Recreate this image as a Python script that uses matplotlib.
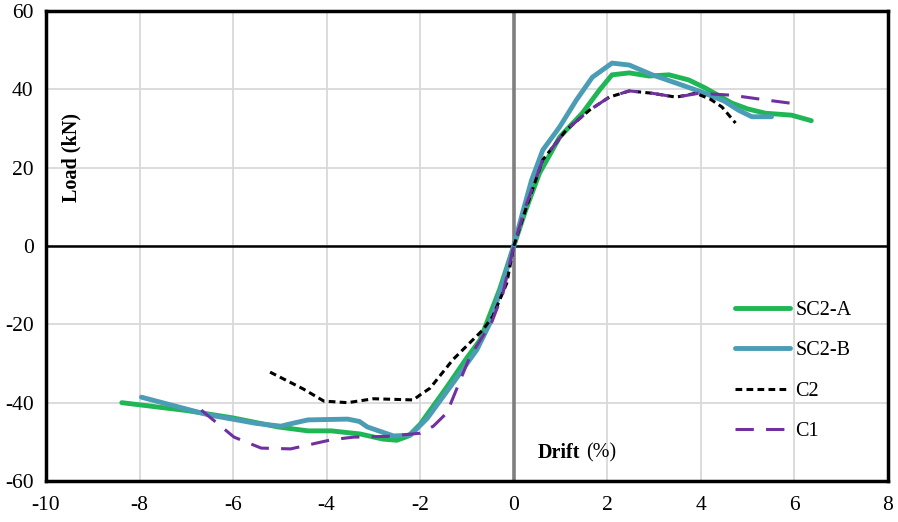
import matplotlib
matplotlib.use("Agg")
import matplotlib.pyplot as plt

# Data (drift %, load kN)
sc2a_x = [-8.38, -7.0, -6.0, -5.04, -4.4, -3.9, -3.28, -2.8, -2.5, -2.25, -2.0, -1.43, -1.0, -0.72, -0.3, 0.0, 0.25, 0.55, 0.98, 1.47, 1.83, 2.1, 2.47, 2.89, 3.32, 3.74, 4.1, 4.66, 5.0, 5.38, 5.94, 6.36]
sc2a_y = [-40.0, -42.0, -43.9, -46.2, -47.2, -47.2, -48.0, -49.3, -49.6, -48.5, -45.5, -36.0, -28.5, -24.0, -11.0, 0.0, 9.0, 18.6, 27.8, 34.0, 39.8, 43.7, 44.2, 43.4, 43.7, 42.4, 40.3, 36.5, 35.0, 33.9, 33.4, 32.0]

sc2b_x = [-7.96, -6.53, -5.5, -4.98, -4.7, -4.4, -3.55, -3.3, -3.13, -2.57, -2.21, -1.85, -1.3, -0.79, -0.51, -0.25, 0.0, 0.2, 0.38, 0.62, 0.98, 1.34, 1.68, 2.1, 2.47, 2.96, 3.47, 4.02, 4.5, 4.8, 5.09, 5.51]
sc2b_y = [-38.6, -43.1, -45.3, -46.0, -45.2, -44.4, -44.2, -44.8, -46.2, -48.5, -48.3, -44.0, -35.0, -26.5, -19.7, -10.0, 0.0, 9.0, 16.8, 24.5, 30.4, 37.3, 43.1, 46.7, 46.2, 43.7, 41.6, 39.3, 37.0, 34.7, 33.0, 33.0]

c2_x = [-5.21, -4.5, -4.06, -3.55, -3.0, -2.15, -2.0, -1.79, -1.3, -0.66, -0.45, -0.15, 0.0, 0.3, 0.62, 1.12, 1.62, 2.04, 2.47, 2.96, 3.47, 3.89, 4.2, 4.45, 4.74]
c2_y = [-32.2, -36.5, -39.6, -40.0, -39.0, -39.3, -38.0, -36.3, -29.0, -21.4, -18.0, -9.5, 0.0, 11.0, 22.0, 29.6, 34.7, 38.0, 39.6, 39.0, 38.0, 39.0, 37.5, 35.5, 31.4]

c1_x = [-6.68, -5.98, -5.4, -4.77, -3.91, -3.43, -2.7, -2.0, -1.72, -1.43, -0.94, -0.47, -0.23, 0.0, 0.25, 0.62, 1.12, 1.62, 2.04, 2.47, 2.96, 3.47, 3.96, 4.66, 5.38, 6.02]
c1_y = [-41.9, -48.8, -51.6, -51.8, -49.5, -48.8, -48.6, -47.8, -46.0, -42.6, -28.3, -19.4, -12.0, 0.0, 10.0, 22.0, 29.6, 34.7, 38.0, 39.6, 39.0, 38.0, 39.0, 38.5, 37.3, 36.3]

labels = ["SC2-A", "SC2-B", "C2", "C1"]
x_ticks = [-10, -8, -6, -4, -2, 0, 2, 4, 6, 8]
y_ticks = [-60, -40, -20, 0, 20, 40, 60]

serif = ["Liberation Serif", "DejaVu Serif"]
plt.rcParams["font.family"] = serif

fig = plt.figure(figsize=(8.98, 5.22), dpi=100)
ax = fig.add_axes([46 / 898, 1 - 481 / 522, (888 - 46) / 898, (481 - 11) / 522])

ax.set_xlim(-10, 8)
ax.set_ylim(-60, 60)
ax.set_xticks(x_ticks)
ax.set_yticks(y_ticks)
ax.set_xticklabels([str(v) for v in x_ticks])
ax.set_yticklabels([str(v) for v in y_ticks])
ax.tick_params(length=0, labelsize=15.5, pad=9)
ax.tick_params(axis="x", pad=11)
ax.grid(True, color="#d9d9d9", linewidth=1.3)
ax.set_axisbelow(True)
for s in ax.spines.values():
    s.set_linewidth(2.5)
    s.set_color("black")

ax.axvline(0, color="#7f7f7f", linewidth=2.6, zorder=1.5)
ax.axhline(0, color="black", linewidth=1.8, zorder=1.5)

cap = "round"
ax.plot(sc2a_x, sc2a_y, color="#1fb655", linewidth=3.5, solid_capstyle=cap, solid_joinstyle="round", label=labels[0], zorder=3)
ax.plot(sc2b_x, sc2b_y, color="#4a9db4", linewidth=3.5, solid_capstyle=cap, solid_joinstyle="round", label=labels[1], zorder=4)
ax.plot(c2_x, c2_y, color="black", linewidth=2.2, linestyle=(0, (2.2, 1.4)), label=labels[2], zorder=5)
ax.plot(c1_x, c1_y, color="#7030a0", linewidth=2.2, linestyle=(0, (6, 4)), label=labels[3], zorder=6)

leg = ax.legend(loc="upper left", bbox_to_anchor=(735 / 898, 1 - 301 / 522),
                bbox_transform=fig.transFigure, frameon=False, fontsize=14.5,
                handlelength=2.75, handletextpad=0.25, labelspacing=1.05, borderpad=0,
                borderaxespad=0)

ax.text(-9.45, 22.5, "Load (kN)", rotation=90, ha="center", va="center",
        fontsize=14.5, fontweight="bold")
ax.text(0.52, -52.9, "Drift", ha="left", va="center", fontsize=14.5, fontweight="bold")
ax.text(1.55, -52.9, "(%)", ha="left", va="center", fontsize=14.5)

fig.savefig("out.png", dpi=100)
